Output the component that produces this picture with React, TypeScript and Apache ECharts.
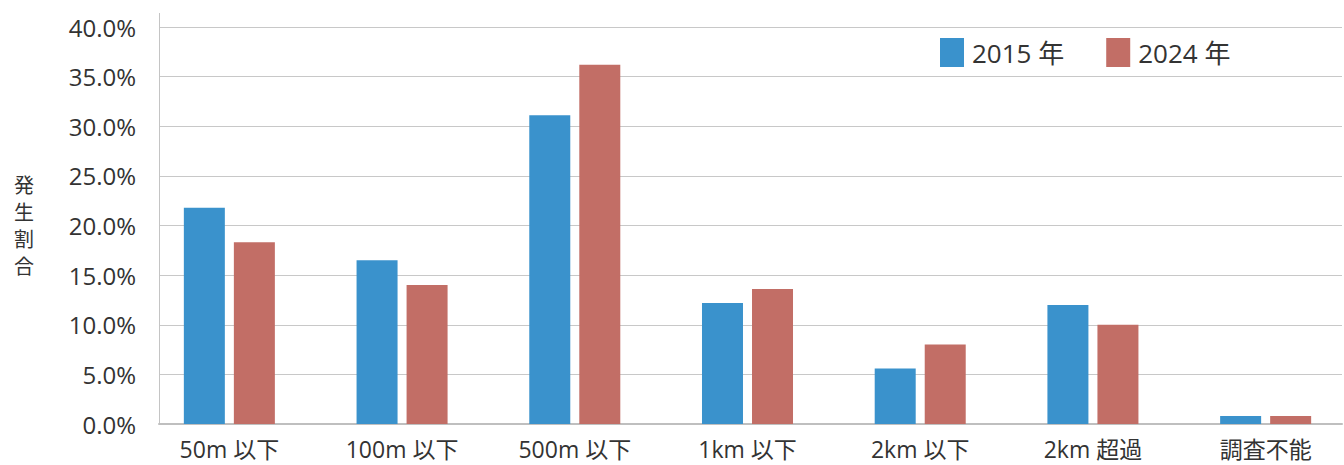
import React, { useEffect, useRef } from "react";
import * as echarts from "echarts";

const categories = ["50m 以下", "100m 以下", "500m 以下", "1km 以下", "2km 以下", "2km 超過", "調査不能"];
const values2015 = [21.8, 16.5, 31.1, 12.2, 5.6, 12.0, 0.8];
const values2024 = [18.3, 14.0, 36.2, 13.6, 8.0, 10.0, 0.8];
const seriesNames = ["2015 年", "2024 年"];
const yAxisName = "発生割合";
const yMin = 0;
const yMax = 40;
const yInterval = 5;

const FONT = '"Open Sans", "Noto Sans CJK JP", sans-serif';
const TEXT_COLOR = "#333333";

export default function App() {
  const ref = useRef<HTMLDivElement>(null);

  useEffect(() => {
    if (!ref.current) return;
    const chart = echarts.init(ref.current, undefined, { renderer: "svg" });
    chart.setOption({
      animation: false,
      backgroundColor: "#ffffff",
      textStyle: { fontFamily: FONT },
      legend: {
        data: seriesNames,
        left: 940,
        top: 38,
        padding: 0,
        itemWidth: 24,
        itemHeight: 29,
        itemGap: 42,
        icon: "rect",
        textStyle: { fontSize: 26, color: TEXT_COLOR, fontFamily: FONT, padding: [0, 0, 0, 3] },
      },
      grid: [
        { left: 159, width: 1183, top: 27, bottom: 41, containLabel: false },
        { left: 143, width: 1209, top: 27, bottom: 41, containLabel: false },
      ],
      xAxis: [
        {
          type: "category",
          gridIndex: 0,
          data: categories,
          axisLine: { show: true, lineStyle: { color: "#bfbfbf", width: 2 } },
          axisTick: { show: false },
          axisLabel: { show: false },
          splitLine: { show: false },
        },
        {
          type: "category",
          gridIndex: 1,
          data: categories,
          axisLine: { show: false },
          axisTick: { show: false },
          axisLabel: { fontSize: 23, color: TEXT_COLOR, margin: 13, fontFamily: FONT },
          splitLine: { show: false },
        },
      ],
      yAxis: [
        {
          type: "value",
          gridIndex: 0,
          min: yMin,
          max: yMax,
          interval: yInterval,
          axisLine: { show: true, lineStyle: { color: "#c4c4c4", width: 1 } },
          axisTick: { show: false },
          axisLabel: {
            fontSize: 24,
            color: TEXT_COLOR,
            margin: 23,
            fontFamily: FONT,
            formatter: (v: number) => v.toFixed(1) + "%",
          },
          splitLine: { show: true, lineStyle: { color: "#c8c8c8", width: 1 } },
        },
        {
          type: "value",
          gridIndex: 1,
          min: yMin,
          max: yMax,
          interval: yInterval,
          show: false,
          splitLine: { show: false },
        },
      ],
      series: [
        {
          name: seriesNames[0],
          type: "bar",
          xAxisIndex: 1,
          yAxisIndex: 1,
          data: values2015,
          barWidth: 41,
          barGap: "22%",
          itemStyle: { color: "#3a92cc" },
        },
        {
          name: seriesNames[1],
          type: "bar",
          xAxisIndex: 1,
          yAxisIndex: 1,
          data: values2024,
          barWidth: 41,
          barGap: "22%",
          itemStyle: { color: "#c26e66" },
        },
      ],
      graphic: [
        {
          type: "line",
          shape: { x1: 159.5, y1: 13, x2: 159.5, y2: 27 },
          style: { stroke: "#c4c4c4", lineWidth: 1 },
          silent: true,
        },
        {
          type: "text",
          x: 24,
          y: 226,
          style: {
            text: yAxisName.split("").join("\n"),
            fontSize: 20,
            lineHeight: 27,
            fill: TEXT_COLOR,
            fontFamily: FONT,
            align: "center",
            verticalAlign: "middle",
          },
        },
      ],
    });
    return () => chart.dispose();
  }, []);

  return (
    <div
      ref={ref}
      style={{ position: "fixed", left: 0, top: 0, width: 1360, height: 465 }}
    />
  );
}
